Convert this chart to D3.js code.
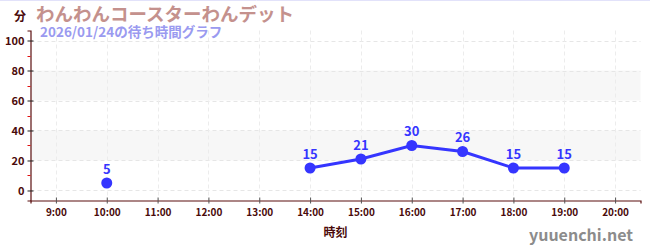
<!DOCTYPE html>
<html>
<head>
<meta charset="utf-8">
<script src="https://cdn.jsdelivr.net/npm/d3@7"></script>
<style>
  body { margin: 0; background: #fff; }
  svg { display: block; }
  text { font-family: "Noto Sans CJK JP", "Noto Sans", sans-serif; }
</style>
</head>
<body>
<div id="chart"></div>
<script>
// データ
const hours = [9, 10, 11, 12, 13, 14, 15, 16, 17, 18, 19, 20];
const waits = [null, 5, null, null, null, 15, 21, 30, 26, 15, 15, null];
const yTicks = [0, 20, 40, 60, 80, 100];
const yMinorTicks = [10, 30, 50, 70, 90];
const bands = [[20, 40], [60, 80]];

const title = 'わんわんコースターわんデット';
const subtitle = '2026/01/24の待ち時間グラフ';

const W = 650, H = 250;
const axisColor = '#5a0f0f';
const labelColor = '#4a0a0a';
const lineColor = '#3535ff';

const svg = d3.select('#chart')
  .append('svg')
  .attr('width', W)
  .attr('height', H);

const x = d3.scaleLinear().domain([8.5, 20.5]).range([30.5, 640.5]);
const y = d3.scaleLinear().domain([-6.67, 106.67]).range([200.5, 30.5]);

// 上の枠線
svg.append('line')
  .attr('x1', 0).attr('x2', W)
  .attr('y1', 0.5).attr('y2', 0.5)
  .attr('stroke', '#e2e2fa');

// 帯
svg.selectAll('rect.band')
  .data(bands)
  .enter().append('rect')
  .attr('class', 'band')
  .attr('x', x(8.5))
  .attr('width', x(20.5) - x(8.5))
  .attr('y', d => y(d[1]))
  .attr('height', d => y(d[0]) - y(d[1]))
  .attr('fill', '#f7f7f7');

// グリッド
const grid = svg.append('g').attr('class', 'grid');
grid.selectAll('line.h')
  .data(yTicks)
  .enter().append('line')
  .attr('x1', x(8.5)).attr('x2', x(20.5))
  .attr('y1', d => Math.round(y(d)) + 0.5).attr('y2', d => Math.round(y(d)) + 0.5)
  .attr('stroke', '#e6e6e6')
  .attr('stroke-dasharray', '4,3');
grid.selectAll('line.v')
  .data(hours)
  .enter().append('line')
  .attr('x1', d => Math.round(x(d)) + 0.5).attr('x2', d => Math.round(x(d)) + 0.5)
  .attr('y1', y(106.67)).attr('y2', y(-6.67))
  .attr('stroke', '#ececec')
  .attr('stroke-dasharray', '4,3');

// 軸
const yAxis = svg.append('g')
  .attr('transform', `translate(${x(8.5)},0)`)
  .call(d3.axisLeft(y).tickValues(yTicks).tickSize(3).tickPadding(3));
yAxis.select('.domain').attr('stroke', axisColor).attr('stroke-width', 1.2);
yAxis.selectAll('.tick line').attr('stroke', '#222').attr('x2', 3).attr('x1', -3);
yAxis.selectAll('.tick text')
  .attr('fill', labelColor)
  .attr('font-size', 11)
  .attr('font-weight', 'bold')
  .attr('font-family', '"Noto Sans CJK JP", sans-serif');

const yMinor = svg.append('g')
  .attr('transform', `translate(${x(8.5)},0)`);
yMinor.selectAll('line')
  .data(yMinorTicks)
  .enter().append('line')
  .attr('x1', -3).attr('x2', 0)
  .attr('y1', d => Math.round(y(d)) + 0.5).attr('y2', d => Math.round(y(d)) + 0.5)
  .attr('stroke', '#e01010');

const xAxis = svg.append('g')
  .attr('transform', `translate(0,${y(-6.67)})`)
  .call(d3.axisBottom(x).tickValues(hours).tickFormat(d => `${d}:00`).tickSize(3).tickPadding(5));
xAxis.select('.domain').attr('stroke', axisColor).attr('stroke-width', 1.2);
xAxis.selectAll('.tick line').attr('stroke', '#555').attr('y1', -3).attr('y2', 3);
xAxis.selectAll('.tick text')
  .attr('fill', labelColor)
  .attr('font-size', 10)
  .attr('font-weight', 'bold')
  .attr('font-family', '"Noto Sans CJK JP", sans-serif');

// 線と点
const pts = hours.map((h, i) => ({ h: h, v: waits[i] }));
const line = d3.line()
  .defined(d => d.v !== null)
  .x(d => x(d.h))
  .y(d => y(d.v));

svg.append('path')
  .datum(pts)
  .attr('d', line)
  .attr('fill', 'none')
  .attr('stroke', lineColor)
  .attr('stroke-width', 3);

const valid = pts.filter(d => d.v !== null);
svg.selectAll('circle.pt')
  .data(valid)
  .enter().append('circle')
  .attr('class', 'pt')
  .attr('cx', d => x(d.h))
  .attr('cy', d => y(d.v))
  .attr('r', 5.5)
  .attr('fill', lineColor);

svg.selectAll('text.val')
  .data(valid)
  .enter().append('text')
  .attr('class', 'val')
  .attr('x', d => x(d.h))
  .attr('y', d => y(d.v) - 9)
  .attr('text-anchor', 'middle')
  .attr('fill', lineColor)
  .attr('font-size', 13)
  .attr('font-weight', 'bold')
  .text(d => d.v);

// テキスト
svg.append('text')
  .attr('x', 14).attr('y', 21)
  .attr('fill', labelColor)
  .attr('font-size', 12)
  .attr('font-weight', 'bold')
  .text('分');

svg.append('text')
  .attr('x', 36).attr('y', 21)
  .attr('fill', '#c4918d')
  .attr('font-size', 18.5)
  .attr('font-weight', 'bold')
  .text(title);

svg.append('text')
  .attr('x', 40).attr('y', 37)
  .attr('fill', '#9a9af0')
  .attr('font-size', 13.5)
  .attr('font-weight', 'bold')
  .text(subtitle);

svg.append('text')
  .attr('x', x(14.5)).attr('y', 237)
  .attr('text-anchor', 'middle')
  .attr('fill', labelColor)
  .attr('font-size', 12)
  .attr('font-weight', 'bold')
  .text('時刻');

svg.append('text')
  .attr('x', 633).attr('y', 241)
  .attr('text-anchor', 'end')
  .attr('fill', '#8c8c8c')
  .attr('font-size', 16)
  .attr('font-weight', 'bold')
  .attr('font-family', '"Open Sans", sans-serif')
  .text('yuuenchi.net');
</script>
</body>
</html>
